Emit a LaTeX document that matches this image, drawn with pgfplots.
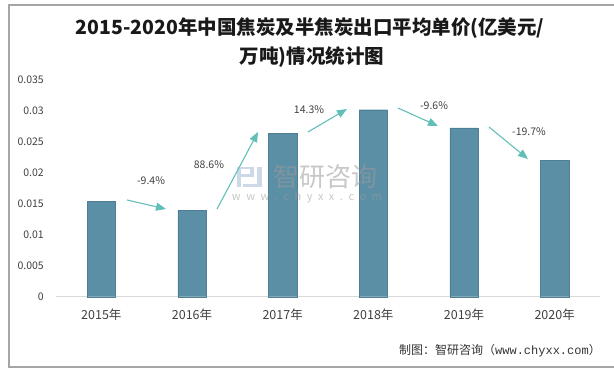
\documentclass[border=0pt]{standalone}
\usepackage{fontspec}
\setmainfont{Noto Sans CJK SC}
\newfontfamily\monof{Liberation Mono}
\usepackage{pgfplots}
\pgfplotsset{compat=1.18}
\usetikzlibrary{arrows.meta}
\definecolor{barc}{HTML}{5B8FA6}
\definecolor{bard}{HTML}{4F7F96}
\definecolor{arrc}{HTML}{62BFB8}
\definecolor{txt}{HTML}{404040}
\definecolor{frame}{HTML}{A6A6A6}
\definecolor{wm}{HTML}{9A9A9A}
\definecolor{wmlogo}{HTML}{B8C8DE}
\begin{document}
\begin{tikzpicture}
\useasboundingbox (0,0) rectangle (614bp,372bp);
% frame
\draw[frame, line width=1.2bp] (620bp,367bp) -- (9bp,367bp) -- (9bp,5bp) -- (620bp,5bp);
% title
\node[font=\bfseries\fontsize{19.5bp}{22bp}\selectfont, text=black!90] at (310bp,344bp) {2015-2020年中国焦炭及半焦炭出口平均单价(亿美元/};
\node[font=\bfseries\fontsize{19.5bp}{22bp}\selectfont, text=black!90] at (312bp,315bp) {万吨)情况统计图};
% source
\node[anchor=east, inner sep=0pt, text=black!80, font=\fontsize{12bp}{14bp}\selectfont] at (601bp,21bp) {制图：智研咨询（{\monof www.chyxx.com}）};
\begin{axis}[
  at={(56bp,75.3bp)}, anchor=south west,
  scale only axis, width=544bp, height=217.4bp,
  xmin=-0.5, xmax=5.5, ymin=0, ymax=0.035,
  ybar, bar width=28.5bp,
  axis lines*=left,
  x axis line style={draw=black!15, line width=1bp},
  y axis line style={draw=none},
  major tick length=0pt,
  xtick=data,
  xticklabels={2015年,2016年,2017年,2018年,2019年,2020年},
  ytick={0,0.005,0.01,0.015,0.02,0.025,0.03,0.035},
  scaled y ticks=false,
  yticklabel={\pgfmathprintnumber[fixed,precision=3]{\tick}},
  /pgf/number format/assume math mode=true,
  yticklabel style={font=\fontsize{10.5bp}{12bp}\selectfont, text=txt, inner sep=0pt, xshift=-12bp},
  xticklabel style={font=\fontsize{12.5bp}{14bp}\selectfont, text=txt, inner sep=0pt, yshift=-12bp},
  clip=false,
]
\addplot[fill=barc, draw=bard, line width=0.4bp] coordinates {(0,0.0154) (1,0.01395) (2,0.0263) (3,0.0301) (4,0.0272) (5,0.0219)};
% watermark
\node[text=wm, opacity=0.55, font=\fontsize{26bp}{28bp}\selectfont, inner sep=0pt] at (axis cs:2.47,0.0193) {智研咨询};
\node[text=wm, opacity=0.55, font=\fontsize{11bp}{12bp}\selectfont, inner sep=0pt] at (axis cs:2.268,0.01605) {w\hspace{5.5bp}w\hspace{5.5bp}w\hspace{5.5bp}.\hspace{5.5bp}c\hspace{5.5bp}h\hspace{5.5bp}y\hspace{5.5bp}x\hspace{5.5bp}x\hspace{5.5bp}.\hspace{5.5bp}c\hspace{5.5bp}o\hspace{5.5bp}m};
\begin{scope}[wmlogo, opacity=0.7]
\fill (axis cs:1.50,0.0205) rectangle (axis cs:1.68,0.0209);
\fill (axis cs:1.50,0.0177) rectangle (axis cs:1.54,0.0205);
\fill (axis cs:1.64,0.0193) rectangle (axis cs:1.68,0.0205);
\fill (axis cs:1.54,0.0193) rectangle (axis cs:1.64,0.0197);
\fill (axis cs:1.72,0.0181) rectangle (axis cs:1.77,0.0209);
\fill (axis cs:1.56,0.0177) rectangle (axis cs:1.77,0.0181);
\end{scope}
% growth arrows
\begin{scope}[arrc, line width=1.1bp, -{Triangle[length=10bp,width=8bp]}]
\draw (axis cs:0.283,0.01557) -- (axis cs:0.713,0.01412);
\draw (axis cs:1.276,0.01412) -- (axis cs:1.728,0.02652);
\draw (axis cs:2.279,0.02652) -- (axis cs:2.709,0.03022);
\draw (axis cs:3.272,0.03038) -- (axis cs:3.713,0.02748);
\draw (axis cs:4.276,0.02732) -- (axis cs:4.706,0.02217);
\end{scope}
\begin{scope}[every node/.style={text=txt, font=\fontsize{10.5bp}{12bp}\selectfont, inner sep=0pt}]
\node at (axis cs:0.548,0.01863) {-9.4\%};
\node at (axis cs:1.187,0.0212) {88.6\%};
\node at (axis cs:2.290,0.03006) {14.3\%};
\node at (axis cs:3.669,0.0307) {-9.6\%};
\node at (axis cs:4.717,0.02652) {-19.7\%};
\end{scope}
\end{axis}
\end{tikzpicture}
\end{document}
